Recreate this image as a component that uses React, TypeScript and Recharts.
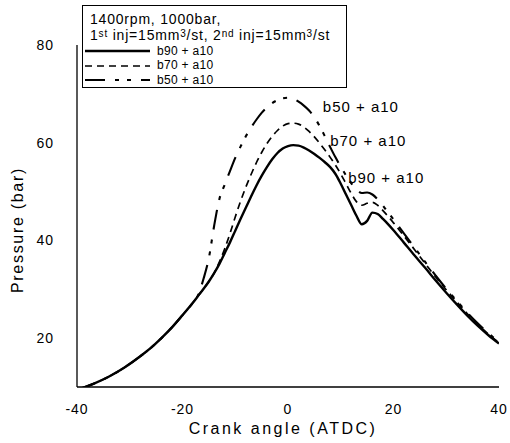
import { LineChart, Line, XAxis, YAxis, Legend, ReferenceDot } from "recharts"

const FONT = "'Liberation Sans', Arial, Helvetica, sans-serif"

// crank angle (deg ATDC)
const angles = [
  -40, -37, -34, -31, -28, -26, -24, -22, -20, -18,
  -17, -16, -15, -14, -13, -12, -11, -10, -9, -8,
  -7, -6, -5, -4, -3, -2, -1, 0, 1, 2,
  3, 4, 5, 6, 7, 8, 9, 10, 11, 12,
  13, 14, 15, 16, 17, 18, 19, 20, 22, 24,
  26, 28, 30, 32, 34, 36, 38, 40,
]

// cylinder pressure (bar)
const b90 = [
  9.4, 10.6, 12.1, 14.0, 16.3, 18.0, 20.0, 22.2, 24.7, 27.3,
  28.7, 30.1, 31.6, 33.3, 35.2, 37.4, 39.6, 42.0, 44.4, 46.7,
  49.0, 51.2, 53.2, 55.0, 56.6, 57.9, 58.8, 59.3, 59.5, 59.4,
  59.0, 58.4, 57.7, 56.9, 56.0, 55.0, 53.6, 51.6, 49.4, 47.2,
  45.0, 43.3, 44.0, 45.7, 45.4, 44.4, 43.3, 42.1, 39.5, 36.9,
  34.4, 31.8, 29.3, 26.9, 24.6, 22.5, 20.6, 18.9,
]

const b70 = [
  9.4, 10.6, 12.1, 14.0, 16.3, 18.0, 20.0, 22.2, 24.7, 27.3,
  28.7, 30.1, 31.6, 33.3, 35.6, 38.3, 41.4, 44.8, 48.0, 50.9,
  53.5, 55.9, 58.0, 59.8, 61.3, 62.5, 63.4, 63.9, 64.0, 63.8,
  63.2, 62.3, 61.2, 59.9, 58.5, 57.0, 55.4, 53.6, 51.6, 49.6,
  47.9, 47.2, 47.6, 47.8, 47.2, 46.1, 44.9, 43.6, 40.9, 38.1,
  35.3, 32.5, 29.9, 27.4, 25.0, 22.8, 20.8, 19.1,
]

const b50 = [
  9.4, 10.6, 12.1, 14.0, 16.3, 18.0, 20.0, 22.2, 24.7, 27.3,
  28.9, 32.2, 36.4, 43.0, 48.5, 51.4, 54.2, 56.9, 59.2, 61.3,
  63.1, 64.7, 66.1, 67.2, 68.1, 68.7, 69.1, 69.2, 69.0, 68.4,
  67.6, 66.6, 65.2, 63.4, 61.3, 59.1, 57.0, 55.1, 53.3, 51.7,
  50.4, 49.7, 49.8, 49.4, 48.4, 47.1, 45.7, 44.3, 41.4, 38.5,
  35.6, 32.8, 30.1, 27.6, 25.2, 23.0, 21.0, 19.2,
]

const seriesNames = ["b90 + a10", "b70 + a10", "b50 + a10"]
const xTicks = [-40, -20, 0, 20, 40]
const yTicks = [20, 40, 60, 80]

const data = angles.map((angle, i) => ({ angle, b90: b90[i], b70: b70[i], b50: b50[i] }))

const dashes = ["", "7 5", "20 10 4 8 4 10"]
const widths = [2.4, 1.7, 2.1]

const sup = { fontSize: 10, lineHeight: "10px", verticalAlign: "baseline", position: "relative" as const, top: -3 }

const renderLegend = () => (
  <div
    style={{
      width: 263,
      height: 81,
      border: "1px solid #000",
      background: "#fff",
      position: "relative",
      fontFamily: FONT,
      color: "#000",
      whiteSpace: "nowrap",
    }}
  >
    <div style={{ position: "absolute", left: 7, top: 7, fontSize: 14, lineHeight: "12px", letterSpacing: 0.8 }}>
      1400rpm, 1000bar,
    </div>
    <div style={{ position: "absolute", left: 7, top: 23, fontSize: 14, lineHeight: "12px", letterSpacing: 0.8 }}>
      1<span style={sup}>st</span> inj=15mm<span style={sup}>3</span>/st, 2<span style={sup}>nd</span> inj=15mm
      <span style={sup}>3</span>/st
    </div>
    {seriesNames.map((name, i) => (
      <div
        key={name}
        style={{
          position: "absolute",
          left: 2,
          top: 38.5 + i * 14.5,
          height: 13,
          display: "flex",
          alignItems: "center",
          fontSize: 12,
          lineHeight: "13px",
          letterSpacing: 0.3,
        }}
      >
        <svg width={65} height={4}>
          <line x1={0} y1={2} x2={65} y2={2} stroke="#000" strokeWidth={widths[i]} strokeDasharray={dashes[i]} />
        </svg>
        <span style={{ marginLeft: 7 }}>{name}</span>
      </div>
    ))}
  </div>
)

const XTitle = (props: any) => {
  const { viewBox } = props
  return (
    <text
      x={viewBox.x + viewBox.width / 2 - 5}
      y={viewBox.y + 47}
      textAnchor="middle"
      fontSize={16}
      letterSpacing={2.5}
      fontFamily={FONT}
      fill="#000"
    >
      Crank angle (ATDC)
    </text>
  )
}

const YTitle = (props: any) => {
  const { viewBox } = props
  const cx = viewBox.x + 17
  const cy = viewBox.y + viewBox.height / 2 + 14
  return (
    <text
      x={cx}
      y={cy}
      transform={`rotate(-90, ${cx}, ${cy})`}
      textAnchor="middle"
      dominantBaseline="central"
      fontSize={16}
      letterSpacing={1.7}
      fontFamily={FONT}
      fill="#000"
    >
      Pressure (bar)
    </text>
  )
}

const tickStyle = { fontSize: 14, fill: "#000", fontFamily: FONT, letterSpacing: 1 }
const calloutStyle = { fontSize: 15, fill: "#000", fontFamily: FONT, letterSpacing: 1 }

export default function App() {
  return (
    <div style={{ position: "absolute", left: 0, top: 0, background: "#fff" }}>
      <LineChart width={510} height={443} data={data} margin={{ top: 45, right: 11, bottom: 0, left: 0 }}>
        <XAxis
          dataKey="angle"
          type="number"
          domain={[-40, 40]}
          ticks={xTicks}
          allowDataOverflow
          height={56}
          axisLine={{ stroke: "#000", strokeWidth: 1.3 }}
          tickLine={false}
          tickMargin={11}
          tick={tickStyle}
          label={XTitle}
        />
        <YAxis
          type="number"
          domain={[10, 80]}
          ticks={yTicks}
          allowDataOverflow
          width={77}
          axisLine={{ stroke: "#000", strokeWidth: 1.3 }}
          tickLine={false}
          tickMargin={17}
          tick={tickStyle}
          label={YTitle}
        />
        <Legend
          content={renderLegend}
          layout="horizontal"
          verticalAlign="middle"
          align="center"
          wrapperStyle={{ left: 82, top: 5, width: 265, height: 83 }}
        />
        <Line
          type="monotone"
          dataKey="b90"
          name={seriesNames[0]}
          stroke="#000"
          strokeWidth={widths[0]}
          dot={false}
          activeDot={false}
          isAnimationActive={false}
        />
        <Line
          type="monotone"
          dataKey="b70"
          name={seriesNames[1]}
          stroke="#000"
          strokeWidth={widths[1]}
          strokeDasharray={dashes[1]}
          dot={false}
          activeDot={false}
          isAnimationActive={false}
        />
        <Line
          type="monotone"
          dataKey="b50"
          name={seriesNames[2]}
          stroke="#000"
          strokeWidth={widths[2]}
          strokeDasharray={dashes[2]}
          dot={false}
          activeDot={false}
          isAnimationActive={false}
        />
        <ReferenceDot x={6.6} y={67.3} r={0} fill="none" stroke="none" label={{ value: seriesNames[2], position: "right", offset: 0, ...calloutStyle }} />
        <ReferenceDot x={8.0} y={60.5} r={0} fill="none" stroke="none" label={{ value: seriesNames[1], position: "right", offset: 0, ...calloutStyle }} />
        <ReferenceDot x={11.4} y={52.8} r={0} fill="none" stroke="none" label={{ value: seriesNames[0], position: "right", offset: 0, ...calloutStyle }} />
      </LineChart>
    </div>
  )
}
